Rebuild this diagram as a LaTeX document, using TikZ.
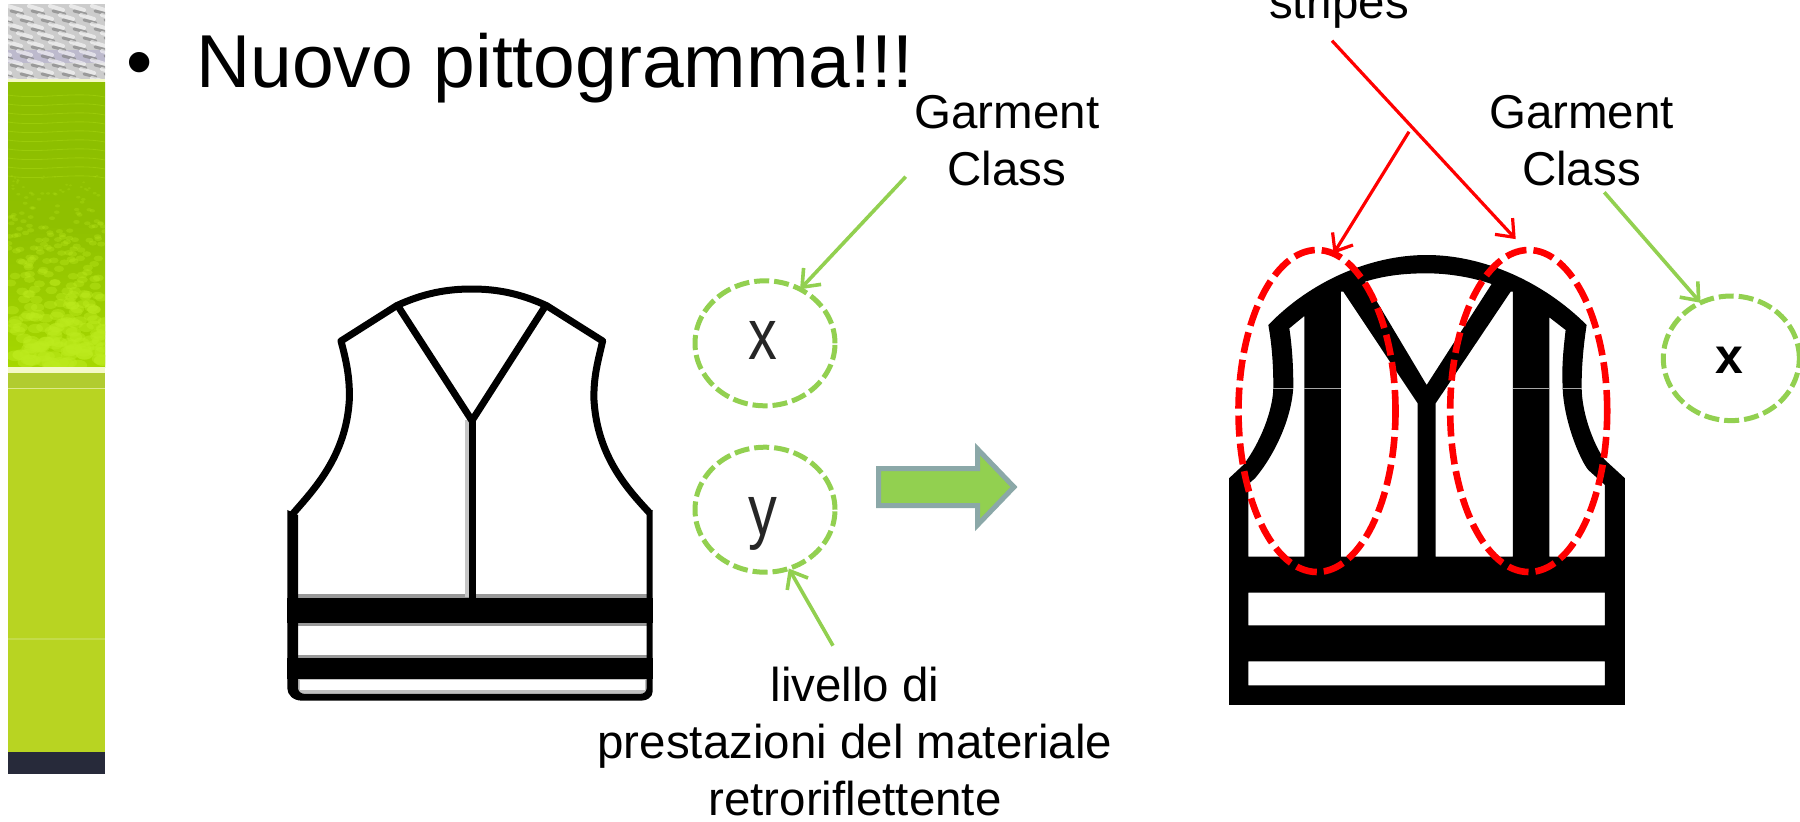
\documentclass[tikz,border=0pt]{standalone}
\usepackage{fontspec}
\setmainfont{Liberation Sans}
\usetikzlibrary{arrows.meta,shapes.geometric}
\definecolor{lgreen}{HTML}{92D050}
\definecolor{arrowedge}{HTML}{8BA8A8}
\definecolor{hvred}{HTML}{FF0000}
\definecolor{purpleband}{HTML}{BDBACD}
\definecolor{paleline}{HTML}{F4F9C8}
\definecolor{topgreen}{HTML}{8CBE00}
\definecolor{midgreen}{HTML}{8FC000}
\definecolor{botgreen}{HTML}{A6D800}
\definecolor{blob}{HTML}{BDEB1E}
\definecolor{bandgreen}{HTML}{B1CC30}
\definecolor{thinpale}{HTML}{DDE98A}
\definecolor{stripgreen}{HTML}{B8D422}
\definecolor{faintline}{HTML}{C3DB4A}
\definecolor{navy}{HTML}{272A3A}
\tikzset{
  lbl/.style={inner sep=0pt,outer sep=0pt,align=center,anchor=base,font=\fontsize{47.5}{56.8}\selectfont},
  greenring/.style={ellipse,draw=lgreen,line width=5pt,dash pattern=on 15pt off 5pt,inner sep=0pt,outer sep=0pt},
  redring/.style={ellipse,draw=hvred,line width=6.6pt,dash pattern=on 21pt off 7pt,inner sep=0pt,outer sep=0pt,minimum width=157pt,minimum height=322pt},
  greenarrow/.style={draw=lgreen,line width=3.6pt,-{Straight Barb[length=15pt,width=24pt,line width=3.6pt]}},
  redarrow/.style={draw=hvred,line width=3.2pt,-{Straight Barb[length=15pt,width=24pt,line width=3.2pt]}},
  seam/.style={line width=.6pt,draw=gray!70}
}
\begin{document}
\begin{tikzpicture}[x=1pt,y=-1pt]
\useasboundingbox (0,0) rectangle (1800,822);
\clip (0,0) rectangle (1800,822);
\fill[white] (0,0) rectangle (1800,822);

% decorative side strip
\begin{scope}
\clip (8,4) rectangle (105,80);
\fill[gray!40!white] (8,4) rectangle (105,80);
\fill[purpleband] (8,50) rectangle (105,63);
\foreach \r in {0,...,8}{
  \foreach \c in {-1,...,5}{
    \pgfmathsetmacro\px{8+\c*21+mod(\r,2)*10}
    \pgfmathsetmacro\py{6+\r*9}
    \draw[line width=4pt,line cap=round,draw=white,draw opacity=.55] (\px,\py) -- (\px+13,\py+4);
    \draw[line width=3pt,line cap=round,draw=gray,draw opacity=.65] (\px+3,\py+5) -- (\px+15,\py+8);
  }
}
\end{scope}
\fill[paleline] (8,79) rectangle (105,83);
\shade[top color=topgreen,bottom color=botgreen,middle color=midgreen] (8,82) rectangle (105,367);
\begin{scope}
\clip (8,82) rectangle (105,367);
\foreach \w in {0,...,9}{
  \pgfmathsetmacro\wy{95+\w*9}
  \draw[line width=.8pt,draw=blob,draw opacity=.3] (8,\wy) .. controls (40,\wy+5) and (75,\wy-4) .. (105,\wy+2);
}
\pgfmathsetseed{4711}
\foreach \i in {1,...,280}{
  \pgfmathsetmacro\py{175+rnd*192}
  \pgfmathsetmacro\px{8+rnd*97}
  \pgfmathsetmacro\rr{1+(\py-175)/192*6}
  \pgfmathsetmacro\rx{\rr*1.3}
  \pgfmathsetmacro\ry{\rr*.8}
  \pgfmathsetmacro\op{.18+(\py-175)/192*.38}
  \fill[blob,fill opacity=\op] (\px,\py) ellipse ({\rx} and {\ry});
}
\end{scope}
\fill[paleline] (8,367) rectangle (105,373);
\fill[bandgreen] (8,373) rectangle (105,388);
\fill[thinpale] (8,388) rectangle (105,389);
\fill[stripgreen] (8,389) rectangle (105,752);
\fill[faintline] (8,638) rectangle (105,640);
\fill[navy] (8,752) rectangle (105,774);

% title
\node[inner sep=0pt,anchor=base west,font=\fontsize{75}{80}\selectfont] (bul) at (126,87) {•};
\node[inner sep=0pt,anchor=base west,font=\fontsize{75}{80}\selectfont] (title) at (196,87) {Nuovo pittogramma!!!};

% left vest
\begin{scope}[shift={(270,260)},x=.3333pt,y=-.3333pt]
  \fill[gray!80] (84,1002) rectangle (1132,1100);
  \fill[gray!80] (84,1184) rectangle (1132,1196);
  \fill[gray!50] (84,1255) rectangle (1132,1302);
  \fill[white] (84,1098) rectangle (1130,1186);
  \fill[white] (90,1260) rectangle (1125,1290);
  \fill[black] (52,1015) rectangle (1148,1088);
  \fill[black] (52,1195) rectangle (1148,1258);
  \fill[black] (52,750) -- (84,765) -- (84,1285) .. controls (84,1295) and (95,1302) .. (105,1302) -- (1110,1302) .. controls (1122,1302) and (1130,1295) .. (1130,1285) -- (1130,760) -- (1148,750) -- (1148,1295) .. controls (1148,1312) and (1130,1322) .. (1115,1322) -- (95,1322) .. controls (70,1322) and (52,1305) .. (52,1285) -- cycle;
  \fill[gray!45] (585,480) rectangle (598,1012);
  \fill[black] (597,475) rectangle (618,1015);
  \draw[line width=7pt,line join=round]
    (68,762) .. controls (130,690) and (228,590) .. (238,420) .. controls (240,350) and (228,300) .. (213,243)
    -- (380,137) .. controls (460,100) and (530,87) .. (605,87) .. controls (680,87) and (750,100) .. (830,137)
    -- (998,243) .. controls (985,300) and (970,350) .. (972,420) .. controls (982,590) and (1075,690) .. (1140,760);
  \draw[line width=7pt,line join=miter] (385,140) -- (606,482) -- (825,140);
\end{scope}

% green rings and letters
\node[greenring,minimum width=140pt,minimum height=125pt] (ringx) at (765,343.3) {};
\node[greenring,minimum width=140pt,minimum height=125pt] (ringy) at (765,509.7) {};
\node[inner sep=0pt,anchor=base,text=black!85,font=\fontsize{72}{80}\selectfont] (letx) at (763,359) {\scalebox{.8}[1]{x}};
\node[inner sep=0pt,anchor=base,text=black!85,font=\fontsize{72}{80}\selectfont] (lety) at (763,535) {\scalebox{.8}[1]{y}};

% big arrow
\draw[draw=arrowedge,fill=lgreen,line width=5pt,miter limit=4]
  (878.5,468.5) -- (977.5,468.5) -- (977.5,449) -- (1014,487) -- (977.5,525) -- (977.5,505.5) -- (878.5,505.5) -- cycle;

% right vest
\begin{scope}[shift={(1200,230)},x=.3333pt,y=-.3333pt]
  \fill[black,even odd rule]
    (87,745) -- (130,705) .. controls (180,640) and (220,540) .. (220,470) .. controls (220,400) and (215,340) .. (205,285)
    .. controls (330,155) and (510,75) .. (680,75) .. controls (850,75) and (1030,155) .. (1160,285)
    .. controls (1150,350) and (1145,410) .. (1145,470) .. controls (1145,560) and (1190,660) .. (1215,690)
    -- (1275,745) -- (1275,1425) -- (87,1425) -- cycle
    (495,155) .. controls (560,135) and (620,130) .. (680,130) .. controls (740,130) and (810,140) .. (875,162) -- (680,465) -- cycle
    (145,980) -- (145,762) -- (165,745) .. controls (220,680) and (275,570) .. (280,470) .. controls (280,400) and (275,340) .. (268,295) -- (313,258) -- (313,980) -- cycle
    (423,980) -- (423,185) -- (430,185) -- (653,520) -- (653,980) -- cycle
    (707,980) -- (707,520) -- (932,185) -- (939,185) -- (939,980) -- cycle
    (1048,980) -- (1048,262) -- (1097,300) .. controls (1090,360) and (1085,410) .. (1088,470) .. controls (1090,570) and (1140,690) .. (1165,720) -- (1215,765) -- (1215,980) -- cycle
    (145,1088) rectangle (1215,1186)
    (145,1294) rectangle (1215,1366);
  \draw[seam] (218,475) -- (278,475) (313,475) -- (423,475) (940,475) -- (1048,475) (1088,475) -- (1146,475);
\end{scope}

% red rings
\node[redring] (redl) at (1317,411) {};
\node[redring] (redr) at (1528.7,411) {};
\node[greenring,minimum width=136pt,minimum height=124.6pt] (ringr) at (1731.3,358.3) {};
\node[inner sep=0pt,anchor=base,font=\fontsize{50}{54}\selectfont\bfseries] (letr) at (1729,373) {x};

% labels
\node[lbl] (glab) at (1007,185) {Garment\\Class};
\node[lbl] (grab) at (1581.5,185) {Garment\\Class};
\node[lbl] (stripes) at (1339,18) {stripes};
\node[lbl] (liv) at (855,815) {livello di\\prestazioni del materiale\\retroriflettente};

% connectors
\coordinate (sa) at (905.7,176.7);
\coordinate (sb) at (833,645.7);
\coordinate (sc) at (1604.3,192.3);
\coordinate (sd) at (1332,40.7);
\coordinate (se) at (1409,131.7);
\draw[greenarrow] (sa) -- (ringx.57.6);
\draw[greenarrow] (sb) -- (ringy.-68.5);
\draw[greenarrow] (sc) -- (ringr.119.5);
\draw[redarrow,shorten >=15pt] (sd) -- (redr.91);
\draw[redarrow] (se) -- (redl.84.6);
\end{tikzpicture}
\end{document}
